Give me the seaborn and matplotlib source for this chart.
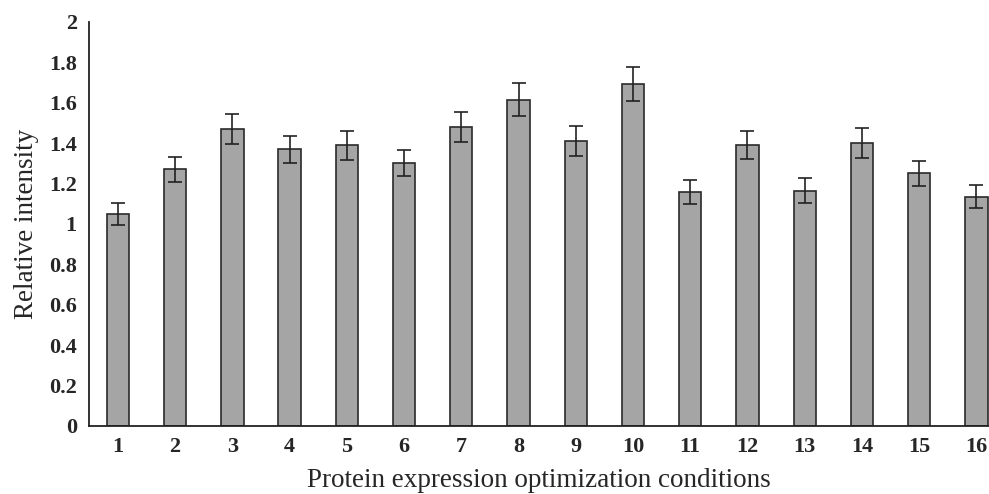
import matplotlib
matplotlib.use("Agg")
import matplotlib.pyplot as plt
import seaborn as sns
import numpy as np
import pandas as pd

# values
conditions = [str(i) for i in range(1, 17)]
intensity = [1.05, 1.27, 1.47, 1.37, 1.39, 1.30, 1.48, 1.615,
             1.41, 1.695, 1.16, 1.39, 1.165, 1.40, 1.25, 1.135]
errors = [0.054, 0.064, 0.074, 0.068, 0.071, 0.064, 0.073, 0.081,
          0.074, 0.084, 0.059, 0.068, 0.063, 0.073, 0.061, 0.058]

df = pd.DataFrame({"condition": conditions, "intensity": intensity, "err": errors})

sns.set_style("white")
plt.rcParams["font.family"] = ["Liberation Serif", "DejaVu Serif"]

fig = plt.figure(figsize=(9.89, 4.94), dpi=100)
ax = fig.add_axes([0.0903, 0.1377, 0.9097, 0.8178])

sns.barplot(data=df, x="condition", y="intensity", color="#a5a5a5",
            edgecolor="#2a2a2a", linewidth=1.2, width=0.39, saturation=1,
            errorbar=None, ax=ax)
ax.errorbar(np.arange(len(df)), df["intensity"], yerr=df["err"], fmt="none",
            ecolor="#222222", elinewidth=1.2, capsize=5, capthick=1.2)

ax.set_ylim(0, 2)
ax.set_xlim(-0.5, 15.22)
ax.set_yticks(np.arange(0, 2.01, 0.2))
ax.set_yticklabels(["0", "0.2", "0.4", "0.6", "0.8", "1", "1.2", "1.4",
                    "1.6", "1.8", "2"])
ax.tick_params(axis="both", length=0, labelsize=16)
ax.tick_params(axis="y", pad=9)
ax.tick_params(axis="x", pad=8)
for lbl in ax.get_xticklabels() + ax.get_yticklabels():
    lbl.set_fontweight("bold")

ax.set_xlabel("Protein expression optimization conditions", fontsize=19.5, labelpad=8)
ax.set_ylabel("Relative intensity", fontsize=19.5, labelpad=7)

sns.despine(ax=ax, top=True, right=True)
for s in ["left", "bottom"]:
    ax.spines[s].set_color("#222222")
    ax.spines[s].set_linewidth(1.3)

fig.savefig("out.png", dpi=100)
